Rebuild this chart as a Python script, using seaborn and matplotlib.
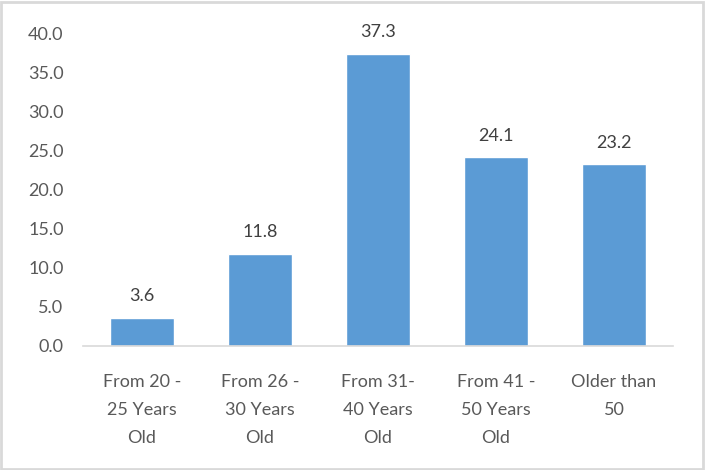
import matplotlib
matplotlib.use("Agg")
import matplotlib.pyplot as plt
import seaborn as sns
import pandas as pd

categories = ["From 20 -\n25 Years\nOld", "From 26 -\n30 Years\nOld",
              "From 31-\n40 Years\nOld", "From 41 -\n50 Years\nOld",
              "Older than\n50"]
values = [3.6, 11.8, 37.3, 24.1, 23.2]
y_ticks = [0, 5, 10, 15, 20, 25, 30, 35, 40]

df = pd.DataFrame({"group": categories, "pct": values})

sns.set_theme(style="white")
plt.rcParams["font.family"] = ["Lato", "DejaVu Sans"]

fig = plt.figure(figsize=(7.06, 4.70), dpi=100)
ax = fig.add_axes([83 / 706, 1 - 346 / 470, 590 / 706, 313 / 470])

sns.barplot(data=df, x="group", y="pct", color="#5B9BD5", width=0.545,
            saturation=1, ax=ax)

# value labels above each bar
for i, v in enumerate(values):
    ax.annotate(f"{v:.1f}", (i, v), xytext=(0, 10), textcoords="offset points",
                ha="center", va="bottom", fontsize=13, color="#404040")

ax.set_ylim(0, 40)
ax.set_xlim(-0.5, 4.5)
ax.set_yticks(y_ticks)
ax.set_yticklabels([f"{t:.1f}" for t in y_ticks])
ax.set_xlabel("")
ax.set_ylabel("")
ax.tick_params(axis="both", length=0, labelsize=13, labelcolor="#595959")
ax.tick_params(axis="y", pad=14)
ax.tick_params(axis="x", pad=20)
for lbl in ax.get_xticklabels():
    lbl.set_linespacing(1.95)
    lbl.set_va("top")

for s in ["top", "right", "left"]:
    ax.spines[s].set_visible(False)
ax.spines["bottom"].set_color("#D9D9D9")
ax.spines["bottom"].set_linewidth(1.2)

fig.patches.append(plt.Rectangle((0.002, 0.003), 0.994, 0.992, transform=fig.transFigure,
                                 fill=False, edgecolor="#D9D9D9", linewidth=2))

fig.savefig("out.png", dpi=100)
